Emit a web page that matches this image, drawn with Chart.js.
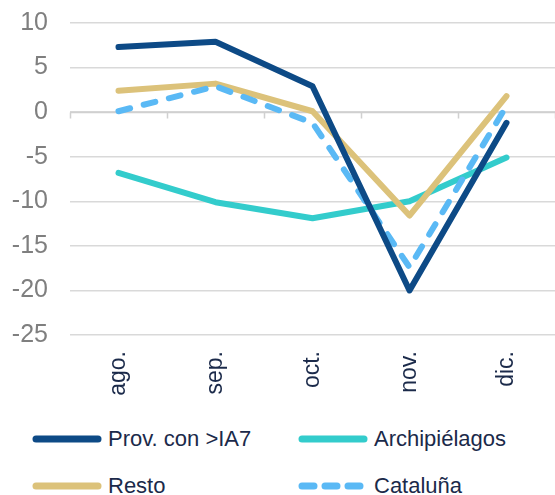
<!DOCTYPE html>
<html>
<head>
<meta charset="utf-8">
<script src="https://cdn.jsdelivr.net/npm/chart.js@4"></script>
<style>
  body { margin: 0; background: #fff; font-family: "Liberation Sans", Arial, sans-serif; }
  #wrap { position: relative; width: 555px; height: 495px; overflow: hidden; }
  #chart { position: absolute; left: 0; top: -14px; }
  #legend { position: absolute; left: 32px; top: 415px; display: grid;
    grid-template-columns: 266px 260px; row-gap: 0; }
  .item { display: flex; align-items: center; height: 47px; font-size: 22px; color: #1b2a4a; }
  .item svg { margin-right: 6px; }
</style>
</head>
<body>
<div id="wrap">
  <canvas id="chart" width="555" height="410"></canvas>
  <div id="legend"></div>
</div>
<script>
const months = ['ago.', 'sep.', 'oct.', 'nov.', 'dic.'];
const provIA7 = [7.3, 7.9, 2.9, -20.0, -1.2];
const archipielagos = [-6.8, -10.1, -11.9, -10.0, -5.1];
const resto = [2.4, 3.2, 0.1, -11.6, 1.8];
const cataluna = [0.1, 2.9, -1.2, -17.4, 0.7];

const series = [
  { label: 'Prov. con >IA7', data: provIA7, color: '#0d4a86', dash: [] },
  { label: 'Archipiélagos', data: archipielagos, color: '#33cccc', dash: [] },
  { label: 'Resto', data: resto, color: '#dcc27a', dash: [] },
  { label: 'Cataluña', data: cataluna, color: '#5ab9f5', dash: [12, 14] }
];

// draw order: teal, tan, dashed, navy on top
const order = { 'Prov. con >IA7': 0, 'Archipiélagos': 3, 'Resto': 2, 'Cataluña': 1 };

// category axis line crossing at y = 0, with tick marks between categories
const zeroAxis = {
  id: 'zeroAxis',
  beforeDatasetsDraw(chart) {
    const { ctx, chartArea, scales } = chart;
    const y0 = Math.round(scales.y.getPixelForValue(0)) + 0.5;
    const n = chart.data.labels.length;
    const step = (chartArea.right - chartArea.left) / n;
    ctx.save();
    ctx.strokeStyle = '#d0d0d0';
    ctx.lineWidth = 1.5;
    ctx.beginPath();
    ctx.moveTo(chartArea.left, y0);
    ctx.lineTo(chartArea.right, y0);
    for (let i = 0; i <= n; i++) {
      const x = Math.round(chartArea.left + i * step) + 0.5;
      ctx.moveTo(x, y0);
      ctx.lineTo(x, y0 + 6);
    }
    ctx.stroke();
    ctx.restore();
  }
};

const ctx = document.getElementById('chart').getContext('2d');
const chart = new Chart(ctx, {
  type: 'line',
  data: {
    labels: months,
    datasets: series.map(s => ({
      label: s.label,
      data: s.data,
      borderColor: s.color,
      backgroundColor: s.color,
      borderWidth: 6,
      borderDash: s.dash,
      borderCapStyle: 'round',
      borderJoinStyle: 'round',
      pointRadius: 0,
      tension: 0,
      order: order[s.label]
    }))
  },
  options: {
    responsive: false,
    animation: false,
    layout: { padding: { left: 0, top: 0, right: 0, bottom: 0 } },
    plugins: { legend: { display: false }, tooltip: { enabled: false } },
    scales: {
      x: {
        offset: true,
        grid: { display: false },
        border: { display: false },
        afterFit: axis => { axis.height = 61; },
        ticks: {
          minRotation: 90, maxRotation: 90, padding: 8,
          color: '#1b2a4a',
          font: { family: 'Liberation Sans', size: 23 }
        }
      },
      y: {
        min: -25, max: 10,
        afterFit: axis => { axis.width = 70; },
        ticks: {
          stepSize: 5, padding: 22,
          color: '#7f7f7f',
          font: { family: 'Liberation Sans', size: 25 }
        },
        grid: { color: '#d9d9d9', lineWidth: 1.5, drawTicks: false },
        border: { display: false }
      }
    }
  },
  plugins: [zeroAxis]
});

// legend in two aligned columns
const legend = document.getElementById('legend');
[series[0], series[1], series[2], series[3]].forEach(s => {
  const item = document.createElement('div');
  item.className = 'item';
  const dash = s.dash.length ? 'stroke-dasharray="12 11"' : '';
  item.innerHTML =
    '<svg width="70" height="10"><line x1="4" y1="5" x2="66" y2="5" stroke="' + s.color +
    '" stroke-width="7" stroke-linecap="round" ' + dash + '/></svg><span>' + s.label + '</span>';
  legend.appendChild(item);
});
</script>
</body>
</html>
